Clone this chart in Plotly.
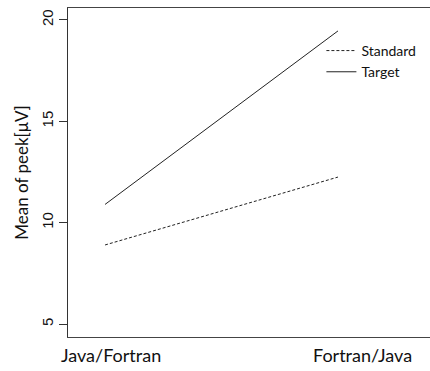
import plotly.graph_objects as go

categories = ["Java/Fortran", "Fortran/Java"]
cat_pos = [1, 2]
label_pos = [1.026, 2.107]
standard = [8.9, 12.25]
target = [10.9, 19.46]
yticks = [5, 10, 15, 20]

fig = go.Figure()
fig.add_trace(go.Scatter(x=cat_pos, y=standard, mode="lines", name="Standard",
                         line=dict(color="#222", width=1, dash="3px,2px")))
fig.add_trace(go.Scatter(x=cat_pos, y=target, mode="lines", name="Target",
                         line=dict(color="#222", width=1)))

for lab, xp in zip(categories, label_pos):
    fig.add_annotation(x=xp, y=0, xref="x", yref="paper", text=lab, showarrow=False,
                       yanchor="middle", yshift=-18,
                       font=dict(family="Lato, Open Sans, sans-serif", size=18, color="#111"))

fig.update_layout(
    width=430, height=371,
    margin=dict(l=68, r=0, t=8, b=34),
    plot_bgcolor="white", paper_bgcolor="white",
    showlegend=True,
    legend=dict(x=0.70, y=0.918, xanchor="left", yanchor="top", bgcolor="rgba(0,0,0,0)",
                font=dict(family="Lato, Open Sans, sans-serif", size=14, color="#111"),
                itemwidth=30, tracegroupgap=0),
    xaxis=dict(range=[0.841, 2.395], showgrid=False, zeroline=False, showticklabels=False,
               ticks="", showline=True, linecolor="#444", linewidth=1, mirror=True),
    yaxis=dict(range=[4.36, 20.59], tickvals=yticks, showgrid=False, zeroline=False,
               ticks="outside", ticklen=8, tickcolor="#333", showline=True, linecolor="#333",
               linewidth=1, tickangle=-90,
               tickfont=dict(family="Liberation Sans, Arial, sans-serif", size=15, color="#111"),
               title=dict(text="Mean of peek[μV]", standoff=6,
                          font=dict(family="Lato, Open Sans, sans-serif", size=17, color="#111"))),
)

fig.write_html("out.html")
